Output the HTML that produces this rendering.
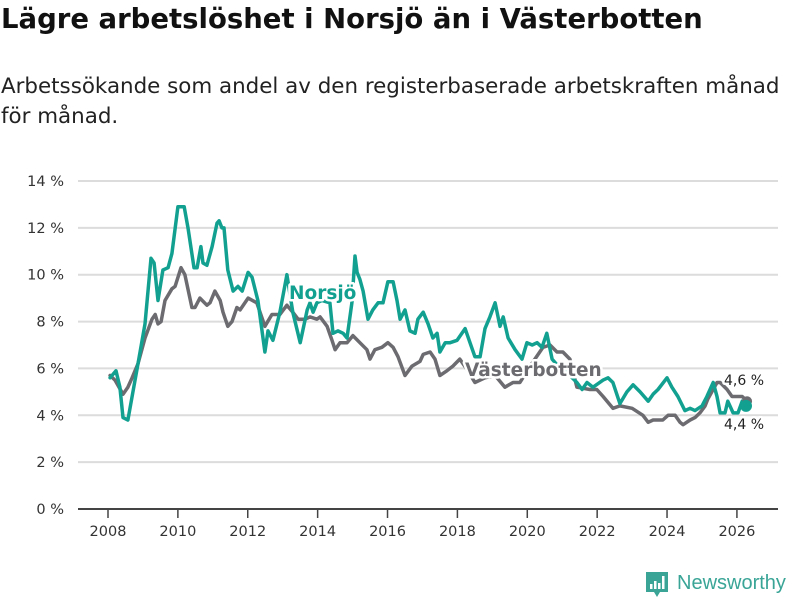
<!DOCTYPE html>
<html><head><meta charset="utf-8">
<style>
body{margin:0;background:#fff;font-family:"DejaVu Sans","Liberation Sans",sans-serif;}
#wrap{position:relative;width:800px;height:600px;overflow:hidden;background:#fff;}
h1{position:absolute;left:1px;top:3px;margin:0;font-size:27.5px;font-weight:bold;color:#111;letter-spacing:0px;white-space:nowrap;font-family:"DejaVu Sans","Liberation Sans",sans-serif;}
.sub{position:absolute;left:1px;top:72px;margin:0;font-size:21.4px;line-height:30px;color:#222;width:799px;white-space:nowrap;font-family:"DejaVu Sans","Liberation Sans",sans-serif;}
svg{position:absolute;left:0;top:0;}
</style></head>
<body>
<div id="wrap">
<h1>Lägre arbetslöshet i Norsjö än i Västerbotten</h1>
<p class="sub">Arbetssökande som andel av den registerbaserade arbetskraften månad<br>för månad.</p>
<svg id="chart" width="800" height="600"></svg>
</div>
<script>
const yTicks=[0,2,4,6,8,10,12,14];
const xTicks=[2008,2010,2012,2014,2016,2018,2020,2022,2024,2026];
const norsjoYears=[2008.06,2008.23,2008.34,2008.43,2008.57,2008.69,2008.86,2009.06,2009.23,2009.32,2009.43,2009.57,2009.72,2009.83,2010.00,2010.18,2010.29,2010.46,2010.55,2010.66,2010.72,2010.83,2010.98,2011.12,2011.18,2011.26,2011.32,2011.43,2011.58,2011.72,2011.84,2012.01,2012.12,2012.29,2012.49,2012.58,2012.72,2012.92,2013.12,2013.29,2013.50,2013.70,2013.78,2013.87,2013.98,2014.12,2014.35,2014.44,2014.58,2014.73,2014.84,2014.98,2015.07,2015.13,2015.21,2015.30,2015.44,2015.58,2015.73,2015.87,2016.01,2016.16,2016.27,2016.36,2016.50,2016.64,2016.79,2016.87,2017.02,2017.16,2017.30,2017.42,2017.50,2017.65,2017.79,2017.99,2018.22,2018.36,2018.50,2018.65,2018.79,2018.93,2019.08,2019.22,2019.31,2019.45,2019.65,2019.85,2019.99,2020.14,2020.28,2020.42,2020.56,2020.71,2020.94,2021.22,2021.42,2021.57,2021.71,2021.88,2022.17,2022.31,2022.45,2022.65,2022.85,2023.03,2023.23,2023.46,2023.60,2023.74,2024.00,2024.14,2024.31,2024.51,2024.66,2024.80,2025.00,2025.14,2025.32,2025.43,2025.52,2025.66,2025.74,2025.89,2026.03,2026.15,2026.26];
const norsjoValues=[5.6,5.9,5.2,3.9,3.8,4.8,6.2,7.9,10.7,10.5,8.9,10.2,10.3,10.9,12.9,12.9,12.0,10.3,10.3,11.2,10.5,10.4,11.2,12.2,12.3,12.0,12.0,10.2,9.3,9.5,9.3,10.1,9.9,8.9,6.7,7.6,7.2,8.4,10.0,8.4,7.1,8.5,8.8,8.4,8.8,8.9,8.8,7.5,7.6,7.5,7.3,8.8,10.8,10.1,9.8,9.3,8.1,8.5,8.8,8.8,9.7,9.7,8.9,8.1,8.5,7.6,7.5,8.1,8.4,7.9,7.3,7.5,6.7,7.1,7.1,7.2,7.7,7.1,6.5,6.5,7.7,8.2,8.8,7.8,8.2,7.3,6.8,6.4,7.1,7.0,7.1,6.9,7.5,6.4,6.0,5.7,5.4,5.1,5.4,5.2,5.5,5.6,5.4,4.5,5.0,5.3,5.0,4.6,4.9,5.1,5.6,5.2,4.8,4.2,4.3,4.2,4.4,4.8,5.4,4.8,4.1,4.1,4.6,4.1,4.1,4.6,4.4];
const vbYears=[2008.06,2008.20,2008.43,2008.57,2008.69,2008.86,2009.06,2009.26,2009.35,2009.43,2009.52,2009.63,2009.83,2009.92,2010.09,2010.20,2010.40,2010.49,2010.63,2010.83,2010.92,2011.06,2011.21,2011.29,2011.43,2011.55,2011.69,2011.78,2012.01,2012.26,2012.49,2012.69,2012.92,2013.12,2013.29,2013.44,2013.64,2013.78,2013.98,2014.07,2014.27,2014.41,2014.50,2014.64,2014.84,2015.01,2015.21,2015.41,2015.50,2015.64,2015.84,2016.01,2016.16,2016.30,2016.50,2016.70,2016.93,2017.02,2017.22,2017.36,2017.50,2017.70,2017.87,2018.07,2018.30,2018.50,2018.79,2019.08,2019.36,2019.59,2019.79,2020.08,2020.45,2020.65,2020.85,2021.02,2021.22,2021.42,2021.79,2021.99,2022.17,2022.45,2022.65,2023.00,2023.31,2023.46,2023.60,2023.88,2024.03,2024.23,2024.37,2024.46,2024.66,2024.80,2024.94,2025.09,2025.17,2025.43,2025.52,2025.72,2025.86,2026.15,2026.29];
const vbValues=[5.7,5.5,4.9,5.2,5.6,6.2,7.3,8.1,8.3,7.9,8.0,8.9,9.4,9.5,10.3,10.0,8.6,8.6,9.0,8.7,8.8,9.3,8.9,8.4,7.8,8.0,8.6,8.5,9.0,8.8,7.8,8.3,8.3,8.7,8.4,8.1,8.1,8.2,8.1,8.2,7.8,7.2,6.8,7.1,7.1,7.4,7.1,6.8,6.4,6.8,6.9,7.1,6.9,6.5,5.7,6.1,6.3,6.6,6.7,6.4,5.7,5.9,6.1,6.4,5.9,5.4,5.6,5.7,5.2,5.4,5.4,6.1,6.9,7.0,6.7,6.7,6.4,5.2,5.1,5.1,4.8,4.3,4.4,4.3,4.0,3.7,3.8,3.8,4.0,4.0,3.7,3.6,3.8,3.9,4.1,4.4,4.7,5.4,5.4,5.1,4.8,4.8,4.6];

const NS='http://www.w3.org/2000/svg';
const svg=document.getElementById('chart');
const X0=78,X1=778,Y0=509,Y14=181;
const FONT='DejaVu Sans, Liberation Sans, sans-serif';
function xs(yr){return 108+(yr-2008)*34.94;}
function ys(v){return Y0-(v/14)*(Y0-Y14);}
function mk(tag,attrs,parent){const e=document.createElementNS(NS,tag);for(const k in attrs)e.setAttribute(k,attrs[k]);(parent||svg).appendChild(e);return e;}

yTicks.forEach(t=>{
  if(t>0){const g=mk('line',{x1:X0,x2:X1,y1:ys(t),y2:ys(t),stroke:'#dcdcdc','stroke-width':2});
  
  }
  const tx=mk('text',{x:64,y:ys(t)+5,'text-anchor':'end','font-size':14.5,fill:'#333','font-family':FONT});
  tx.textContent=t+' %';
  
  
});
const ax=mk('line',{x1:X0,x2:X1,y1:Y0,y2:Y0,stroke:'#444','stroke-width':2});


xTicks.forEach(t=>{
  const tk=mk('line',{x1:xs(t),x2:xs(t),y1:Y0,y2:Y0+9,stroke:'#444','stroke-width':1.5});
  
  
  const tx=mk('text',{x:xs(t),y:536,'text-anchor':'middle','font-size':14.5,fill:'#333','font-family':FONT});
  tx.textContent=t;
  
  
});
function line(years,vals,color,name){
  const d=years.map((y,i)=>(i?'L':'M')+xs(y).toFixed(1)+','+ys(vals[i]).toFixed(1)).join(' ');
  const p=mk('path',{d:d,fill:'none',stroke:color,'stroke-width':3.5,'stroke-linejoin':'round','stroke-linecap':'round'});
  
  
}
line(vbYears,vbValues,'#6c6b70','vasterbotten-line');
line(norsjoYears,norsjoValues,'#12a191','norsjo-line');
const d1=mk('circle',{cx:xs(vbYears[vbYears.length-1]),cy:ys(vbValues[vbValues.length-1]),r:5,fill:'#6c6b70'});


const d2=mk('circle',{cx:xs(norsjoYears[norsjoYears.length-1]),cy:ys(norsjoValues[norsjoValues.length-1]),r:6,fill:'#12a191'});


function label(txt,x,y,color,size,weight,name,halo){
  const t=mk('text',{x:x,y:y,'font-size':size,'font-weight':weight,fill:color,'font-family':FONT});
  if(halo){t.setAttribute('stroke','#fff');t.setAttribute('stroke-width',5);t.setAttribute('paint-order','stroke');t.setAttribute('stroke-linejoin','round');}
  t.textContent=txt;
  
  
}
label('Norsjö',289,299,'#12a191',18.5,'bold','norsjo-series-label',true);
label('Västerbotten',465,376,'#6c6b70',18.5,'bold','vasterbotten-series-label',true);
label('4,6 %',724,385,'#222',14,'normal','vasterbotten-end-value',true);
label('4,4 %',724,429,'#222',14,'normal','norsjo-end-value',true);
const lg=mk('g',{});


mk('path',{d:'M646,572 h22 v20 h-8 l-3,5 l-3,-5 h-8 z',fill:'#3aa597'},lg);
mk('rect',{x:650,y:584,width:2.5,height:5,fill:'#fff'},lg);
mk('rect',{x:654,y:581,width:2.5,height:8,fill:'#fff'},lg);
mk('rect',{x:658,y:583,width:2.5,height:6,fill:'#fff'},lg);
mk('rect',{x:662,y:576,width:2.5,height:13,fill:'#fff'},lg);
const lt=mk('text',{x:677,y:589,'font-size':20,fill:'#3aa597','font-family':'Liberation Sans, sans-serif'},lg);
lt.textContent='Newsworthy';
</script>
</body></html>
